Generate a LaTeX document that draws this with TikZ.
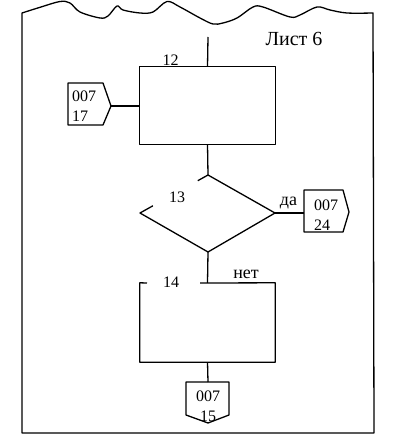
\documentclass[tikz,border=0pt]{standalone}
\usepackage{fontspec}
\setmainfont{Liberation Serif}
\usetikzlibrary{calc}
\begin{document}
\begin{tikzpicture}[x=1pt,y=-1pt,
  ln/.style={line width=1.3pt, line join=round},
  lbl/.style={font=\fontsize{16}{19}\selectfont, inner sep=0pt},
  wlbl/.style={font=\fontsize{18}{20}\selectfont, inner sep=0pt},
  conntext/.style={font=\fontsize{16}{20}\selectfont, inner sep=0pt, align=left},
  box/.style={inner sep=0pt, minimum width=135pt, minimum height=77pt}]
\useasboundingbox (0,0) rectangle (403,446);
% frame
\draw[ln] plot[smooth, tension=0.55] coordinates {(22,13) (41,7) (60,1.5) (70,3) (80,12) (100,18) (108,16) (117,6) (123,10) (140,13) (153,12) (167,1.5) (180,7) (200,18) (213,24) (223,23) (237,18) (253,7) (263,7) (290,17) (300,15) (317,7) (330,10) (347,13) (373,13)}
  -- (374,433) -- (22,433) -- cycle;
\node[font=\fontsize{20}{22}\selectfont, inner sep=0pt, anchor=base] (title) at (294,45.5) {Лист 6};
% block 12
\coordinate (in) at (208,37);
\node[box] (b12) at (207.5,105.5) {};
\draw[ln] (b12.north west) rectangle (b12.south east);
\node[lbl] (l12) at (170.5,60) {12};
\draw[ln] (in) -- (b12.north);
% connector 007/17
\coordinate (c17nw) at (68,83);
\coordinate (c17tip) at (111,106);
\draw[ln] (c17nw) -- (103,83) -- (c17tip) -- (103,125) -- (68,125) -- cycle;
\node[conntext, anchor=base west] (c17) at (72,122) {007\\17};
\draw[ln] (c17tip) -- (b12.west |- c17tip);
% decision 13
\coordinate (dT) at (208,175);
\coordinate (dR) at (275,213);
\coordinate (dB) at (208,252);
\coordinate (dL) at (140,213);
\draw[ln] (b12.south) -- (dT);
\draw[ln] ($(dL)!0.19!(dT)$) -- (dL) -- (dB) -- (dR) -- (dT) -- ($(dL)!0.85!(dT)$);
\node[lbl] (l13) at (177,197) {13};
\node[wlbl] (yes) at (288.5,203) {да};
% connector 007/24
\coordinate (c24w) at (304,213);
\draw[ln] (304,190) -- (343,190) -- (349,212) -- (343,232) -- (304,232) -- cycle;
\node[conntext, anchor=base west] (c24) at (314,230) {007\\24};
\draw[ln] (dR) -- (c24w);
% block 14
\node[box, minimum height=79pt] (b14) at (207.5,322.5) {};
\draw[ln] (147,283) -- (b14.north west) -- (b14.south west) -- (b14.south east) -- (b14.north east) -- (200,283);
\node[lbl] (l14) at (171,282) {14};
\node[wlbl] (no) at (246,274) {нет};
\draw[ln] (dB) -- (b14.north);
% connector 007/15
\coordinate (c15top) at (208,382);
\draw[ln] (186,382) -- (229,382) -- (229,415) -- (208,423) -- (186,415) -- cycle;
\node[conntext, align=center, anchor=base] (c15) at (208,421) {007\\15};
\draw[ln] (b14.south) -- (c15top);
\end{tikzpicture}
\end{document}
